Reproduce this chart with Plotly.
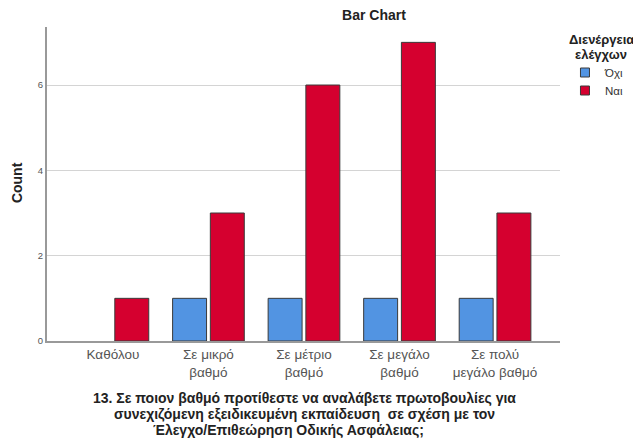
import plotly.graph_objects as go

categories = ["Καθόλου", "Σε μικρό<br>βαθμό", "Σε μέτριο<br>βαθμό", "Σε μεγάλο<br>βαθμό", "Σε πολύ<br>μεγάλο βαθμό"]
ochi = [0, 1, 1, 1, 1]
nai = [1, 3, 6, 7, 3]
series_names = ["Όχι", "Ναι"]
series_colors = ["#5294E2", "#D5002F"]
y_ticks = [0, 2, 4, 6]
chart_title = "Bar Chart"
legend_title_lines = ["Διενέργεια", "ελέγχων"]
x_title_lines = ["13. Σε ποιον βαθμό προτίθεστε να αναλάβετε πρωτοβουλίες για",
                 "συνεχιζόμενη εξειδικευμένη εκπαίδευση  σε σχέση με τον",
                 "Έλεγχο/Επιθεώρηση Οδικής Ασφάλειας;"]
y_title = "Count"

FONT = "Arial, Liberation Sans, sans-serif"
W, H = 633, 433
ML, MR, MT, MB = 39, 79, 19, 100
PW, PH = W - ML - MR, H - MT - MB
OFF = 8  # page body margin


def px(sx):
    return (sx - OFF - ML) / PW


def py(sy):
    return (H - MB - (sy - OFF)) / PH


def outline(vals):
    return [0 if v == 0 else 1 for v in vals]


fig = go.Figure()
for name, vals, col, lg in zip(series_names, [ochi, nai], series_colors, ["legend", "legend2"]):
    fig.add_trace(go.Bar(x=categories, y=vals, name=name, showlegend=False, legendgroup=name,
                         marker=dict(color=col, line=dict(color="#3a3a3a", width=outline(vals)))))
    fig.add_trace(go.Scatter(x=[None], y=[None], name=name, mode="markers", legendgroup=name,
                             legend=lg, showlegend=True,
                             marker=dict(symbol="square", size=9, color=col,
                                         line=dict(color="#3a3a3a", width=1))))

annotations = []
for line, sy, sx in zip(legend_title_lines, [39.5, 55], [603.5, 603.5]):
    annotations.append(dict(text="<b>" + line + "</b>", xref="paper", yref="paper", x=px(sx), y=py(sy),
                            xanchor="center", yanchor="middle", showarrow=False,
                            font=dict(size=13, color="#222")))
for line, sy, sx in zip(x_title_lines, [398.5, 414, 429.5], [305.5, 305.5, 289]):
    annotations.append(dict(text="<b>" + line + "</b>", xref="paper", yref="paper", x=px(sx), y=py(sy),
                            xanchor="center", yanchor="middle", showarrow=False,
                            font=dict(size=14, color="#222")))
annotations.append(dict(text="<b>" + y_title + "</b>", xref="paper", yref="paper", x=px(17.5), y=py(182.5),
                        xanchor="center", yanchor="middle", showarrow=False, textangle=-90,
                        font=dict(size=14, color="#222")))

legend_common = dict(xanchor="left", yanchor="middle", font=dict(size=11.5, color="#333"),
                     itemwidth=30, bgcolor="rgba(0,0,0,0)", borderwidth=0)

fig.update_layout(
    width=W, height=H,
    margin=dict(l=ML, r=MR, t=MT, b=MB),
    paper_bgcolor="white", plot_bgcolor="white",
    font=dict(family=FONT, color="#222"),
    barmode="group", bargap=0.21, bargroupgap=0.1,
    title=dict(text="<b>" + chart_title + "</b>", x=(374 - OFF) / W, xref="container", xanchor="center",
               y=1 - (15.5 - OFF) / H, yref="container", yanchor="middle",
               font=dict(size=14, color="#222")),
    showlegend=True,
    legend=dict(x=px(567), y=py(72.5), **legend_common),
    legend2=dict(x=px(567), y=py(90.5), **legend_common),
    annotations=annotations,
    xaxis=dict(
        range=[-0.69, 4.68], showline=True, linecolor="#999", linewidth=2,
        tickfont=dict(size=13.5, color="#555"), ticks="",
    ),
    yaxis=dict(
        range=[0, 7.36], tickvals=y_ticks, showline=True, linecolor="#999", linewidth=2,
        showgrid=True, gridcolor="#d4d4d4", gridwidth=1, zeroline=False,
        tickfont=dict(size=9.5, color="#555"), ticks="",
    ),
)
fig.write_html("out.html")
